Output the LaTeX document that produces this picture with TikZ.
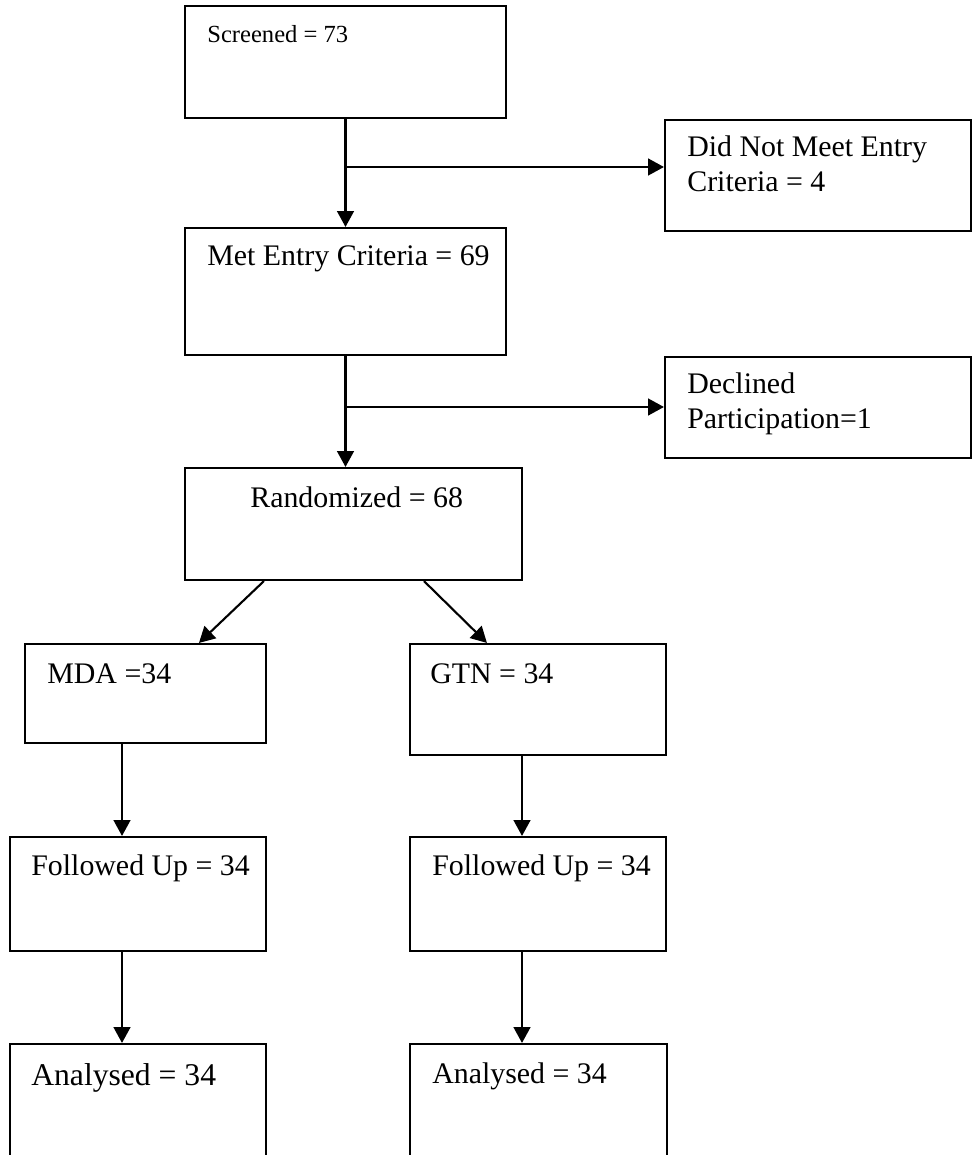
\documentclass[tikz,border=0pt]{standalone}
\usepackage{fontspec}
\setmainfont{Liberation Serif}
\usetikzlibrary{arrows.meta}
\tikzset{
  box/.style={draw, line width=1.2pt, inner sep=0pt},
  txt/.style={anchor=north west, inner sep=0pt, align=left, font=\fontsize{17}{19.9}\selectfont},
  flow/.style={line width=1.2pt, -{Triangle[length=9pt, width=9.5pt]}},
}
% box from left/top to right/bottom, in pixels
\newcommand{\flowbox}[5]{
  \node[box, minimum width={(#4-#2)*0.02cm}, minimum height={(#5-#3)*0.02cm}] (#1) at ({(#2+#4)/2}, {(#3+#5)/2}) {};
}

\begin{document}
\begin{tikzpicture}[x=0.02cm, y=-0.02cm]
      \useasboundingbox (0,0) rectangle (976,1155);

      \flowbox{screened}{185}{6}{506}{118}
      \flowbox{notmet}{665}{120}{971}{231}
      \flowbox{metentry}{185}{228}{506}{355}
      \flowbox{declined}{665}{357}{971}{458}
      \flowbox{random}{185}{468}{522}{580}
      \flowbox{mda}{25}{644}{266}{743}     \flowbox{gtn}{410}{644}{666}{755}
      \flowbox{followa}{10}{837}{266}{951} \flowbox{followb}{410}{837}{666}{951}
      \flowbox{analyseda}{10}{1044}{266}{1175} \flowbox{analysedb}{410}{1044}{667}{1175}

      \node[txt, anchor=base west, font=\fontsize{14}{17}\selectfont] (screened-t) at (207,43) {Screened = 73};
      \node[txt] (notmet-t) at (687,135.6) {Did Not Meet Entry\\Criteria = 4};
      \node[txt, anchor=base west] (metentry-t) at (207,266) {Met Entry Criteria = 69};
      \node[txt] (declined-t) at (687,372.6) {Declined\\Participation=1};
      \node[txt, anchor=base west] (random-t) at (250,507) {Randomized = 68};
      \node[txt, anchor=base west] (mda-t) at (47,683) {MDA =34};
      \node[txt, anchor=base west] (gtn-t) at (430,683) {GTN = 34};
      \node[txt, anchor=base west] (followa-t) at (31,875) {Followed Up = 34};
      \node[txt, anchor=base west] (followb-t) at (432,875) {Followed Up = 34};
      \node[txt, anchor=base west, font=\fontsize{18}{21}\selectfont] (analyseda-t) at (31,1085) {Analysed = 34};
      \node[txt, anchor=base west] (analysedb-t) at (432,1083) {Analysed = 34};

      \coordinate (split1) at (345.5,167);
      \coordinate (split2) at (346,407);
      \coordinate (colA) at (122,0);
      \coordinate (colB) at (522,0);

      \draw[flow] (screened.south) -- (metentry.north);
      \draw[flow] (split1) -- (split1 -| notmet.west);
      \draw[flow] (metentry.south) -- (metentry.south |- random.north);
      \draw[flow] (split2) -- (split2 -| declined.west);

      \draw[flow] ([shift={(80,0)}]random.south west) -- ([shift={(175,0)}]mda.north west);
      \draw[flow] ([shift={(240,0)}]random.south west) -- ([shift={(78,0)}]gtn.north west);

      \draw[flow] (mda.south -| colA) -- (followa.north -| colA);
      \draw[flow] (followa.south -| colA) -- (analyseda.north -| colA);
      \draw[flow] (gtn.south -| colB) -- (followb.north -| colB);
      \draw[flow] (followb.south -| colB) -- (analysedb.north -| colB);
\end{tikzpicture}
\end{document}
